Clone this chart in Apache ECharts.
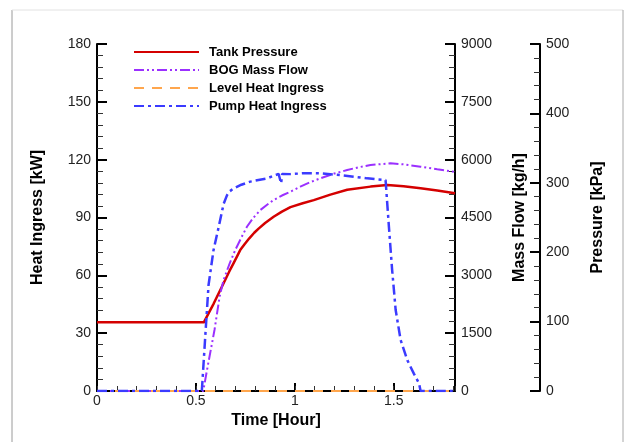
<!DOCTYPE html>
<html>
<head>
<meta charset="utf-8">
<script src="https://cdn.jsdelivr.net/npm/echarts@6/dist/echarts.min.js"></script>
<style>
html,body{margin:0;padding:0;background:#fff;}
#c{width:626px;height:442px;}
</style>
</head>
<body>
<div id="c"></div>
<script>
// ---- data ----
const seriesNames = ['Tank Pressure', 'BOG Mass Flow', 'Level Heat Ingress', 'Pump Heat Ingress'];

// Tank pressure [kPa] vs time [hour]
const pressureTime = [0, 0.54, 0.59, 0.648, 0.67, 0.69, 0.71, 0.724, 0.745, 0.77, 0.795, 0.817, 0.85, 0.893, 0.935, 0.978, 1.04, 1.096, 1.18, 1.265, 1.383, 1.468, 1.55, 1.636, 1.72, 1.81];
const pressureVals = [99, 99, 126, 160, 173, 184, 195, 203, 211, 220, 228, 234, 242, 251, 258.5, 265, 270.5, 275, 283, 290, 294.5, 297, 295, 292, 289, 285];

// BOG mass flow [kg/h]
const bogTime = [0, 0.537, 0.56, 0.594, 0.62, 0.64, 0.67, 0.699, 0.73, 0.758, 0.79, 0.826, 0.86, 0.893, 0.935, 0.978, 1.028, 1.08, 1.13, 1.2, 1.265, 1.32, 1.383, 1.484, 1.55, 1.636, 1.72, 1.81];
const bogVals = [0, 0, 650, 1582, 2450, 2880, 3300, 3657, 3980, 4260, 4490, 4694, 4830, 4954, 5070, 5170, 5300, 5420, 5517, 5640, 5732, 5800, 5862, 5905, 5880, 5818, 5750, 5680];

// Level heat ingress [kW]
const levelTime = [0, 1.81];
const levelVals = [0, 0];

// Pump heat ingress [kW]
const pumpTime = [0, 0.53, 0.549, 0.564, 0.589, 0.615, 0.64, 0.657, 0.67, 0.69, 0.73, 0.775, 0.86, 0.918, 0.927, 0.931, 0.936, 0.978, 1.05, 1.13, 1.231, 1.366, 1.459, 1.476, 1.492, 1.51, 1.535, 1.569, 1.602, 1.628, 1.636, 1.81];
const pumpVals = [0, 0, 31, 55, 73, 85, 97, 101.5, 103.5, 105, 107, 108.6, 110.3, 112.6, 112.6, 107.7, 112.6, 112.5, 113, 112.9, 112, 110.3, 109.4, 85, 63, 42, 26.5, 16, 9, 4, 0, 0];

// axes
const timeMin = 0, timeMax = 1.81, timeStep = 0.5;
const heatMin = 0, heatMax = 180, heatStep = 30;
const flowMin = 0, flowMax = 9000, flowStep = 1500;
const presMin = 0, presMax = 500, presStep = 100;

const axisNames = {x: 'Time [Hour]', heat: 'Heat Ingress [kW]', flow: 'Mass Flow [kg/h]', pres: 'Pressure [kPa]'};

function pairs(t, v) { return t.map((x, i) => [x, v[i]]); }

const FONT = 'Liberation Sans, Arial, sans-serif';
const black = '#000';
const labelStyle = {fontFamily: FONT, fontSize: 14, color: '#222', margin: 6, formatter: v => String(v)};
const nameStyle = {fontFamily: FONT, fontSize: 16, fontWeight: 'bold', color: '#000'};

function yAxis(name, min, max, step, pos, offset, gap) {
  return {
    type: 'value', name: name, nameLocation: 'middle', nameRotate: 90, nameGap: gap,
    nameTextStyle: nameStyle,
    position: pos, offset: offset, min: min, max: max, interval: step,
    axisLine: {show: true, onZero: false, lineStyle: {color: black, width: 2}},
    axisTick: {show: true, inside: true, length: 10, lineStyle: {color: black, width: 2}},
    minorTick: {show: true, splitNumber: 5, length: 6, lineStyle: {color: '#333', width: 1}},
    axisLabel: labelStyle,
    splitLine: {show: false}
  };
}

const chart = echarts.init(document.getElementById('c'), null, {renderer: 'canvas'});
chart.setOption({
  animation: false,
  backgroundColor: '#fff',
  grid: {left: 97, right: 171, top: 44, bottom: 51, containLabel: false},
  graphic: [
    {type: 'line', shape: {x1: 12, y1: 10, x2: 12, y2: 442}, style: {stroke: '#9a9a9a', lineWidth: 1}, silent: true},
    {type: 'line', shape: {x1: 12, y1: 10, x2: 623, y2: 10}, style: {stroke: '#e2e2e2', lineWidth: 1}, silent: true},
    {type: 'line', shape: {x1: 623, y1: 10, x2: 623, y2: 442}, style: {stroke: '#a8a8a8', lineWidth: 1}, silent: true}
  ],
  legend: {
    orient: 'vertical', left: 133, top: 45, padding: 0,
    itemWidth: 65, itemHeight: 14, itemGap: 4,
    data: seriesNames,
    itemStyle: {opacity: 0},
    textStyle: {fontFamily: FONT, fontSize: 13, fontWeight: 'bold', color: '#000', lineHeight: 14, padding: [0, 0, 0, 5]}
  },
  xAxis: [{
    type: 'value', min: timeMin, max: timeMax, interval: timeStep,
    name: axisNames.x, nameLocation: 'middle', nameGap: 17, nameTextStyle: nameStyle,
    axisLine: {show: true, onZero: false, lineStyle: {color: black, width: 2}},
    axisTick: {show: true, inside: true, length: 8, lineStyle: {color: black, width: 2}},
    axisLabel: Object.assign({}, labelStyle, {margin: 3, formatter: v => (Math.abs(v / timeStep - Math.round(v / timeStep)) < 1e-6 ? String(v) : '')}),
    splitLine: {show: false}
  }, {
    type: 'value', min: timeMin, max: timeMax, interval: 0.1, position: 'bottom',
    axisLine: {show: false}, axisLabel: {show: false}, splitLine: {show: false},
    axisTick: {show: true, inside: true, length: 5, lineStyle: {color: '#333', width: 1}}
  }],
  yAxis: [
    yAxis(axisNames.heat, heatMin, heatMax, heatStep, 'left', 0, 51),
    yAxis(axisNames.flow, flowMin, flowMax, flowStep, 'right', 0, 57),
    yAxis(axisNames.pres, presMin, presMax, presStep, 'right', 85, 50)
  ],
  series: [
    {name: seriesNames[0], type: 'line', yAxisIndex: 2, symbol: 'none', data: pairs(pressureTime, pressureVals),
     lineStyle: {color: '#d40000', width: 2.5, join: 'round'}, itemStyle: {color: '#d40000'}, z: 3},
    {name: seriesNames[1], type: 'line', yAxisIndex: 1, symbol: 'none', data: pairs(bogTime, bogVals),
     lineStyle: {color: '#9b30ff', width: 2, type: [10, 3, 2, 3, 2, 3]}, itemStyle: {color: '#9b30ff'}, z: 3},
    {name: seriesNames[2], type: 'line', yAxisIndex: 0, symbol: 'none', data: pairs(levelTime, levelVals),
     lineStyle: {color: '#ffa64d', width: 2, type: [10, 8]}, itemStyle: {color: '#ffa64d'}, z: 3},
    {name: seriesNames[3], type: 'line', yAxisIndex: 0, symbol: 'none', data: pairs(pumpTime, pumpVals),
     lineStyle: {color: '#3b3bff', width: 2.5, type: [10, 4, 3, 4]}, itemStyle: {color: '#3b3bff'}, z: 4}
  ]
});
</script>
</body>
</html>
